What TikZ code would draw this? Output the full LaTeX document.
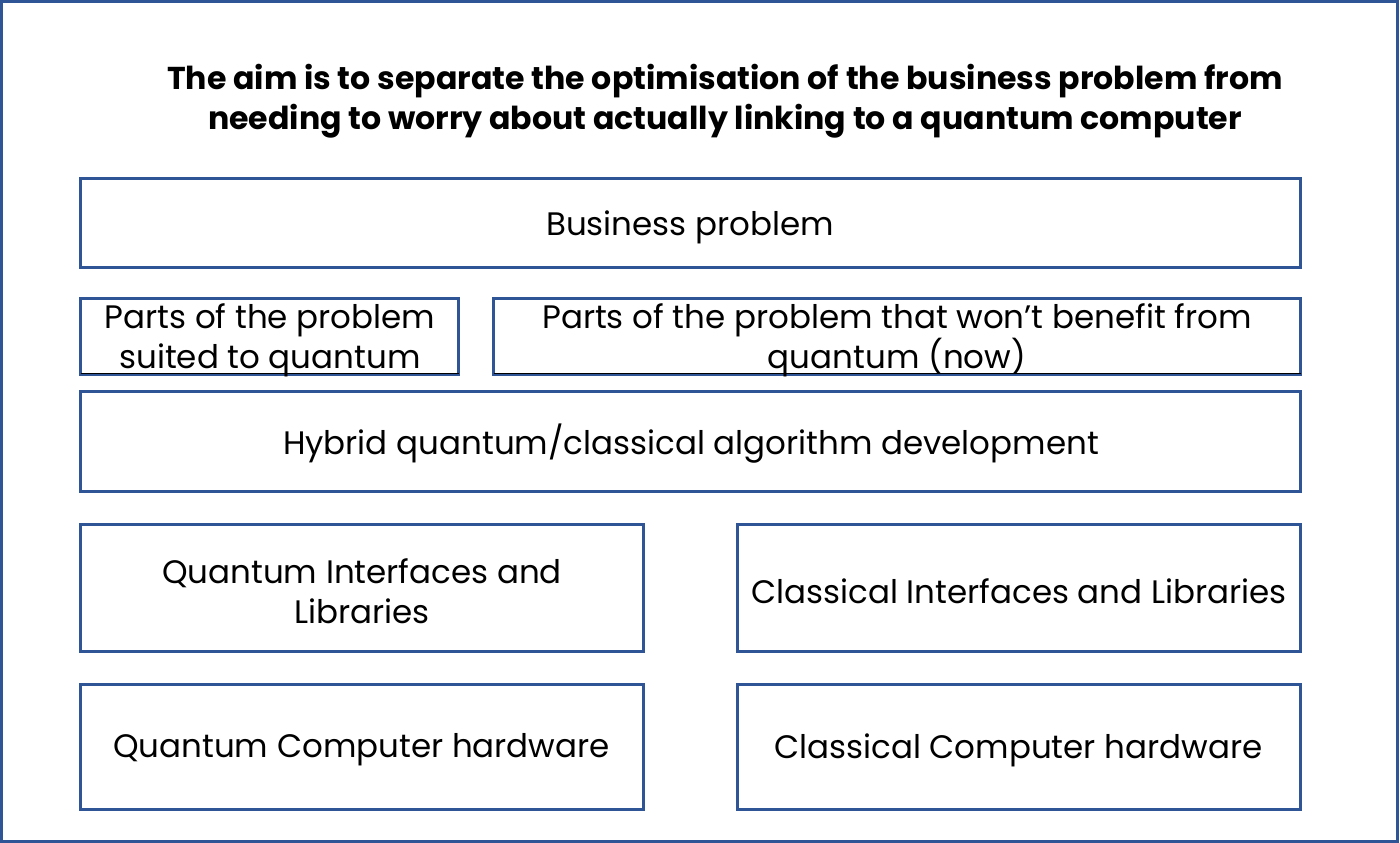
\documentclass[tikz,border=0pt]{standalone}
\usepackage{fontspec}
\setmainfont{Poppins}
\definecolor{frameblue}{RGB}{47,85,151}
\tikzset{
  box/.style={draw=frameblue, line width=3pt, rectangle, inner sep=0pt, outer sep=0pt},
  lbl/.style={align=center, inner sep=0pt, font=\fontsize{32.5}{40}\selectfont, text=black},
  ttl/.style={align=center, inner sep=0pt, font=\fontsize{31.6}{40}\selectfont\bfseries, text=black},
}
\begin{document}
\begin{tikzpicture}[x=1pt,y=-1pt]
\useasboundingbox (0,0) rectangle (1400,843);
\fill[white] (0,0) rectangle (1400,843);
\draw[frameblue, line width=3pt] (1.5,1.5) rectangle (1397.5,841.5);

\node[ttl] (title) at (725,101) {The aim is to separate the optimisation of the business problem from\\needing to worry about actually linking to a quantum computer};

\node[box, minimum width=1220pt, minimum height=89pt] (biz) at (690.5,223) {};
\node[box, minimum width=378pt, minimum height=76pt] (suited) at (269.5,336.5) {};
\node[box, minimum width=807pt, minimum height=76pt] (wont) at (897,336.5) {};
\draw[black, line width=1pt] ([yshift=1pt]suited.south west) -- ([yshift=1pt]suited.south east);
\draw[black, line width=1pt] ([yshift=1pt]wont.south west) -- ([yshift=1pt]wont.south east);
\node[box, minimum width=1220pt, minimum height=100pt] (hyb) at (690.5,441.5) {};
\node[box, minimum width=563pt, minimum height=127pt] (qif) at (362,588) {};
\node[box, minimum width=563pt, minimum height=127pt] (cif) at (1019,588) {};
\node[box, minimum width=563pt, minimum height=125pt] (qhw) at (362,747) {};
\node[box, minimum width=563pt, minimum height=125pt] (chw) at (1019,747) {};

\node[lbl] (tbiz) at (690,227) {Business problem};
\node[lbl] (tsuited) at (270,340) {Parts of the problem\\suited to quantum};
\node[lbl] (twont) at (897,340) {Parts of the problem that won’t benefit from\\quantum (now)};
\node[lbl] (thyb) at (691,444) {Hybrid quantum/classical algorithm development};
\node[lbl] (tqif) at (362,591) {Quantum Interfaces and\\Libraries};
\node[lbl] (tcif) at (1019,591) {Classical Interfaces and Libraries};
\node[lbl] (tqhw) at (361.5,750) {Quantum Computer hardware};
\node[lbl] (tchw) at (1018.5,750) {Classical Computer hardware};
\end{tikzpicture}
\end{document}
